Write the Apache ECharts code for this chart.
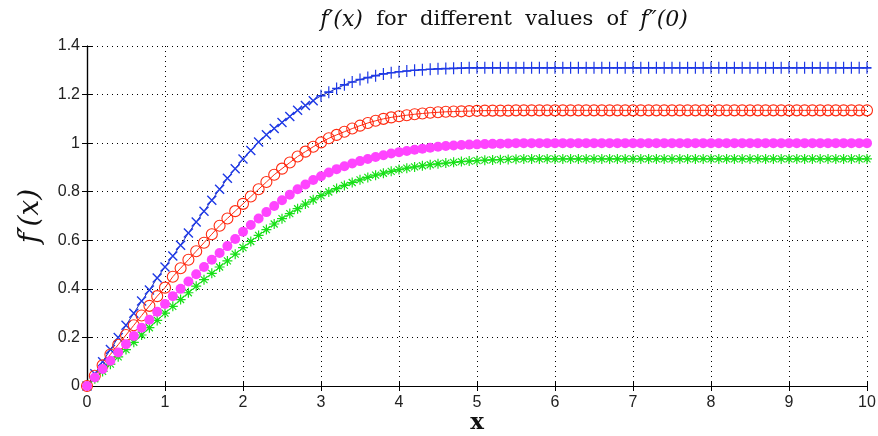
<!DOCTYPE html>
<html>
<head>
<meta charset="utf-8">
<script src="https://cdn.jsdelivr.net/npm/echarts@6/dist/echarts.min.js"></script>
<style>
  html, body { margin: 0; padding: 0; background: #fff; }
  #chart { width: 878px; height: 436px; }
</style>
</head>
<body>
<div id="chart"></div>
<script>
  // sample grid x = 0, 0.1, ... 10
  const xs = Array.from({ length: 101 }, (_, i) => i / 10);

  const xTicks = { min: 0, max: 10, step: 1 };
  const yTicks = { min: 0, max: 1.4, step: 0.2 };

  // f'(x), one row per unit of x
  const blue = [
    0, 0.05, 0.10, 0.15, 0.20, 0.25, 0.30, 0.35, 0.395, 0.445,
    0.49, 0.535, 0.58, 0.63, 0.675, 0.72, 0.765, 0.81, 0.855, 0.895,
    0.935, 0.97, 1.005, 1.035, 1.06, 1.085, 1.11, 1.135, 1.155, 1.175,
    1.195, 1.21, 1.225, 1.24, 1.252, 1.262, 1.27, 1.278, 1.285, 1.29,
    1.294, 1.297, 1.30, 1.302, 1.304, 1.306, 1.307, 1.308, 1.309, 1.31,
    1.31, 1.31, 1.31, 1.31, 1.31, 1.31, 1.31, 1.31, 1.31, 1.31,
    1.31, 1.31, 1.31, 1.31, 1.31, 1.31, 1.31, 1.31, 1.31, 1.31,
    1.31, 1.31, 1.31, 1.31, 1.31, 1.31, 1.31, 1.31, 1.31, 1.31,
    1.31, 1.31, 1.31, 1.31, 1.31, 1.31, 1.31, 1.31, 1.31, 1.31,
    1.31, 1.31, 1.31, 1.31, 1.31, 1.31, 1.31, 1.31, 1.31, 1.31,
    1.31
  ];
  const red = [
    0, 0.042, 0.085, 0.13, 0.17, 0.21, 0.25, 0.29, 0.33, 0.37,
    0.405, 0.45, 0.485, 0.52, 0.555, 0.59, 0.625, 0.66, 0.69, 0.72,
    0.75, 0.78, 0.81, 0.84, 0.87, 0.895, 0.92, 0.945, 0.965, 0.985,
    1.003, 1.02, 1.034, 1.047, 1.06, 1.072, 1.083, 1.092, 1.1, 1.106,
    1.111, 1.115, 1.119, 1.122, 1.125, 1.127, 1.129, 1.13, 1.131, 1.132,
    1.133, 1.134, 1.134, 1.134, 1.134, 1.135, 1.135, 1.135, 1.135, 1.135,
    1.135, 1.135, 1.135, 1.135, 1.135, 1.135, 1.135, 1.135, 1.135, 1.135,
    1.135, 1.135, 1.135, 1.135, 1.135, 1.135, 1.135, 1.135, 1.135, 1.135,
    1.135, 1.135, 1.135, 1.135, 1.135, 1.135, 1.135, 1.135, 1.135, 1.135,
    1.135, 1.135, 1.135, 1.135, 1.135, 1.135, 1.135, 1.135, 1.135, 1.135,
    1.135
  ];
  const magenta = [
    0, 0.035, 0.07, 0.104, 0.138, 0.172, 0.206, 0.24, 0.273, 0.306,
    0.338, 0.37, 0.4, 0.43, 0.46, 0.49, 0.52, 0.548, 0.576, 0.605,
    0.635, 0.663, 0.69, 0.716, 0.741, 0.765, 0.788, 0.81, 0.83, 0.848,
    0.864, 0.879, 0.893, 0.905, 0.916, 0.926, 0.935, 0.943, 0.95, 0.957,
    0.963, 0.968, 0.973, 0.977, 0.981, 0.985, 0.988, 0.99, 0.992, 0.994,
    0.995, 0.996, 0.997, 0.998, 0.999, 1, 1, 1, 1, 1,
    1, 1, 1, 1, 1, 1, 1, 1, 1, 1,
    1, 1, 1, 1, 1, 1, 1, 1, 1, 1,
    1, 1, 1, 1, 1, 1, 1, 1, 1, 1,
    1, 1, 1, 1, 1, 1, 1, 1, 1, 1,
    1
  ];
  const green = [
    0, 0.03, 0.06, 0.09, 0.12, 0.15, 0.18, 0.21, 0.24, 0.27,
    0.3, 0.328, 0.356, 0.384, 0.411, 0.438, 0.464, 0.49, 0.515, 0.543,
    0.57, 0.595, 0.62, 0.644, 0.667, 0.689, 0.71, 0.73, 0.749, 0.767,
    0.784, 0.799, 0.813, 0.826, 0.838, 0.849, 0.859, 0.868, 0.876, 0.884,
    0.891, 0.897, 0.902, 0.907, 0.911, 0.915, 0.918, 0.921, 0.924, 0.926,
    0.928, 0.93, 0.931, 0.932, 0.933, 0.934, 0.935, 0.935, 0.935, 0.935,
    0.935, 0.935, 0.935, 0.935, 0.935, 0.935, 0.935, 0.935, 0.935, 0.935,
    0.935, 0.935, 0.935, 0.935, 0.935, 0.935, 0.935, 0.935, 0.935, 0.935,
    0.935, 0.935, 0.935, 0.935, 0.935, 0.935, 0.935, 0.935, 0.935, 0.935,
    0.935, 0.935, 0.935, 0.935, 0.935, 0.935, 0.935, 0.935, 0.935, 0.935,
    0.935
  ];

  const crossPath = 'path://M0,0L10,10M0,10L10,0';
  const plusPath = 'path://M5,0L5,10M0,5L10,5';
  const starPath = 'path://M5,0L5,10M0,5L10,5M1.5,1.5L8.5,8.5M1.5,8.5L8.5,1.5';

  const pairs = (ys) => xs.map((x, i) => [x, ys[i]]);

  const tickFont = { fontFamily: 'Liberation Sans', fontSize: 16, color: '#222' };
  const dotted = { color: '#000', width: 1, type: [1, 4] };

  const myChart = echarts.init(document.getElementById('chart'), null, { renderer: 'canvas' });

  const option = {
    animation: false,
    backgroundColor: '#fff',
    title: {
      text: '{i|f′(x)}  for  different  values  of  {i|f″(0)}',
      left: 499,
      top: 4,
      textAlign: 'center',
      textStyle: {
        fontFamily: 'DejaVu Serif',
        fontSize: 21,
        fontWeight: 'normal',
        color: '#111',
        rich: {
          i: { fontFamily: 'DejaVu Serif', fontStyle: 'italic', fontSize: 22, color: '#111' }
        }
      }
    },
    grid: { left: 87, right: 11, top: 46, bottom: 50, outerBoundsMode: 'none', containLabel: false },
    xAxis: [
      {
        type: 'value',
        min: xTicks.min, max: xTicks.max, interval: xTicks.step,
        name: 'x',
        nameLocation: 'middle',
        nameGap: 26,
        nameMoveOverlap: false,
        nameTextStyle: { fontFamily: 'DejaVu Serif', fontSize: 23, fontWeight: 'bold', color: '#111' },
        axisLine: { lineStyle: { color: '#000', width: 1.2 } },
        axisTick: { inside: true, length: 5, lineStyle: { color: '#000' } },
        axisLabel: Object.assign({ margin: 9 }, tickFont),
        splitLine: { show: true, lineStyle: dotted }
      },
      {
        type: 'value', position: 'top',
        min: xTicks.min, max: xTicks.max, interval: xTicks.step,
        axisLine: { show: true, lineStyle: { color: '#000', width: 1.2 } },
        axisTick: { inside: true, length: 5, lineStyle: { color: '#000' } },
        axisLabel: { show: false },
        splitLine: { show: false }
      }
    ],
    yAxis: [
      {
        type: 'value',
        min: yTicks.min, max: yTicks.max, interval: yTicks.step,
        name: '{i|f′(x)}',
        nameLocation: 'middle',
        nameGap: 42,
        nameMoveOverlap: false,
        nameRotate: 90,
        nameTextStyle: {
          rich: { i: { fontFamily: 'DejaVu Serif', fontStyle: 'italic', fontSize: 28, color: '#111' } }
        },
        axisLine: { show: true, lineStyle: { color: '#000', width: 1.2 } },
        axisTick: { show: true, inside: true, length: 5, lineStyle: { color: '#000' } },
        axisLabel: Object.assign({ margin: 7 }, tickFont),
        splitLine: { show: true, lineStyle: dotted }
      },
      {
        type: 'value', position: 'right',
        min: yTicks.min, max: yTicks.max, interval: yTicks.step,
        axisLine: { show: true, lineStyle: { color: '#000', width: 1.2 } },
        axisTick: { show: true, inside: true, length: 5, lineStyle: { color: '#000' } },
        axisLabel: { show: false },
        splitLine: { show: false }
      }
    ],
    series: [
      {
        name: 'blue', type: 'line', data: pairs(blue),
        symbol: function (v) { return v[0] < 3 ? crossPath : plusPath; },
        symbolSize: function (v) { return v[0] < 3 ? 9 : [9, 12]; },
        showAllSymbol: true,
        lineStyle: { color: '#1a2ab8', width: 1 },
        itemStyle: { color: 'none', borderColor: '#1f3ae6', borderWidth: 1.4 }
      },
      {
        name: 'red', type: 'line', data: pairs(red),
        symbol: 'circle', symbolSize: 11,
        showAllSymbol: true,
        lineStyle: { color: '#ff2a10', width: 1 },
        itemStyle: { color: 'rgba(0,0,0,0)', borderColor: '#ff2a10', borderWidth: 1.1 }
      },
      {
        name: 'green', type: 'line', data: pairs(green),
        symbol: starPath, symbolSize: 10,
        showAllSymbol: true,
        lineStyle: { color: '#18e018', width: 1 },
        itemStyle: { color: 'none', borderColor: '#18e018', borderWidth: 1.2 }
      },
      {
        name: 'magenta', type: 'line', data: pairs(magenta),
        symbol: 'circle', symbolSize: 10,
        showAllSymbol: true,
        lineStyle: { color: '#ff44ff', width: 1 },
        itemStyle: { color: '#ff44ff', borderWidth: 0 }
      }
    ]
  };

  myChart.setOption(option);
</script>
</body>
</html>
